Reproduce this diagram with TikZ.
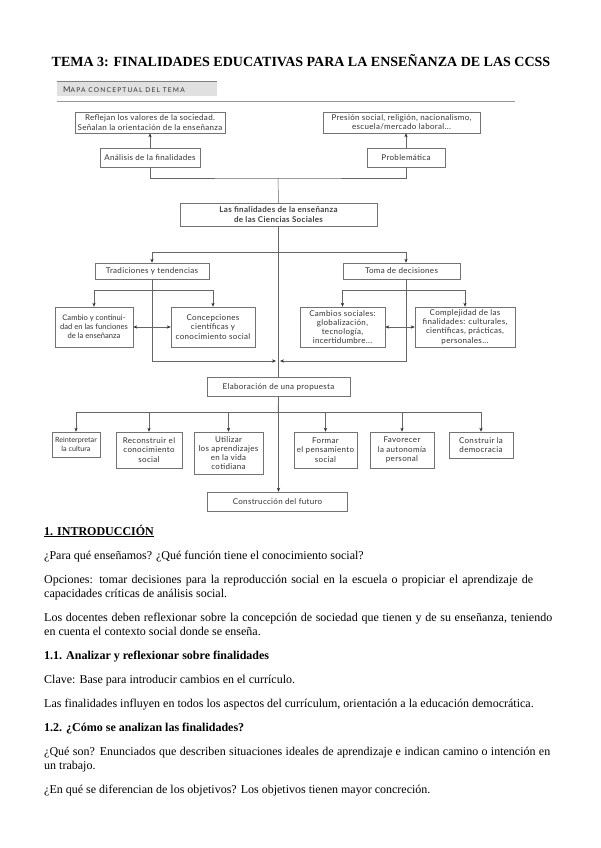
\documentclass[tikz,border=0pt]{standalone}
\usepackage{fontspec}
\setmainfont{Liberation Serif}
\newfontfamily\dfont[LetterSpace=4]{Lato}
\newfontfamily\hfont{Lato}
\usetikzlibrary{arrows.meta,calc}
\tikzset{
  dbox/.style={draw=black!55, line width=0.5pt, fill=white, inner sep=0.5pt, align=center,
    font=\dfont\fontsize{8}{9.2}\selectfont, text=black!80},
  conn/.style={draw=black!60, line width=0.5pt},
  arr/.style={conn, -{Stealth[length=4pt,width=3.2pt,color=black!80]}},
  darr/.style={conn, {Stealth[length=4pt,width=3.2pt,color=black!80]}-{Stealth[length=4pt,width=3.2pt,color=black!80]}},
  body/.style={anchor=base west, inner sep=0pt, font=\fontsize{12}{14}\selectfont},
  head/.style={anchor=base west, inner sep=0pt, font=\bfseries\fontsize{12}{14}\selectfont},
}
\begin{document}
\begin{tikzpicture}[x=1pt,y=-1pt]
\useasboundingbox (0,0) rectangle (600,848);
\fill[white] (0,0) rectangle (600,848);
% title
\node[anchor=base, inner sep=0pt, font=\bfseries\fontsize{14}{16}\selectfont] (title) at (301,67)
  {TEMA 3: FINALIDADES EDUCATIVAS PARA LA ENSEÑANZA DE LAS CCSS};
% header banner
\fill[black!12] (57,81) rectangle (217,96);
\draw[black!50, line width=0.8pt] (57,81) -- (217,81);
\draw[black!40, line width=0.6pt] (57,101) -- (515,101);
\node[anchor=base west, inner sep=0pt, text=black!80] (hdr) at (63,93)
  {\hfont{\fontsize{8}{9}\selectfont M}{\fontsize{6.6}{8}\selectfont\addfontfeatures{LetterSpace=18}APA CONCEPTUAL DEL TEMA}};
% boxes
\node[dbox, minimum width=150pt, minimum height=21pt] (refl) at (150,122.5)
  {Reflejan los valores de la sociedad.\\Señalan la orientación de la enseñanza};
\node[dbox, minimum width=157pt, minimum height=21pt] (pres) at (401.5,122.5)
  {Presión social, religión, nacionalismo,\\escuela/mercado laboral...};
\node[dbox, minimum width=100pt, minimum height=19pt] (anal) at (150,157.5) {Análisis de la finalidades};
\node[dbox, minimum width=78pt, minimum height=19pt] (prob) at (406,157.5) {Problemática};
\node[dbox, minimum width=197pt, minimum height=23pt, font=\dfont\bfseries\fontsize{8}{9.2}\selectfont, text=black!75] (fin) at (278.5,214.5)
  {Las finalidades de la enseñanza\\de las Ciencias Sociales};
\node[dbox, minimum width=114pt, minimum height=16pt] (trad) at (152,271) {Tradiciones y tendencias};
\node[dbox, minimum width=117pt, minimum height=16pt] (toma) at (401.5,271) {Toma de decisiones};
\node[dbox, minimum width=78pt, minimum height=40pt, font=\hfont\fontsize{7.6}{9.2}\selectfont] (camb) at (94,327)
  {Cambio y continui-\\dad en las funciones\\de la enseñanza};
\node[dbox, minimum width=84pt, minimum height=40pt] (conc) at (213,327)
  {Concepciones\\científicas y\\conocimiento social};
\node[dbox, minimum width=85pt, minimum height=40pt] (csoc) at (342.5,327)
  {Cambios sociales:\\globalización,\\tecnología,\\incertidumbre...};
\node[dbox, minimum width=100pt, minimum height=40pt] (comp) at (465,327)
  {Complejidad de las\\finalidades: culturales,\\científicas, prácticas,\\personales...};
\node[dbox, minimum width=143pt, minimum height=19pt] (elab) at (278.5,387) {Elaboración de una propuesta};
\node[dbox, minimum width=48pt, minimum height=25pt, font=\hfont\fontsize{7.2}{9.2}\selectfont] (rein) at (76,444.5) {Reinterpretar\\la cultura};
\node[dbox, minimum width=66pt, minimum height=36pt] (reco) at (149,450) {Reconstruir el\\conocimiento\\social};
\node[dbox, minimum width=69pt, minimum height=42pt] (util) at (228.5,453) {Utilizar\\los aprendizajes\\en la vida\\cotidiana};
\node[dbox, minimum width=63pt, minimum height=36pt] (form) at (325.5,450) {Formar\\el pensamiento\\social};
\node[dbox, minimum width=64pt, minimum height=36pt] (favo) at (402,450) {Favorecer\\la autonomía\\personal};
\node[dbox, minimum width=64pt, minimum height=26pt] (cons) at (481,445) {Construir la\\democracia};
\node[dbox, minimum width=140pt, minimum height=19pt] (futu) at (277.5,501.5) {Construcción del futuro};
% junction coordinates
\coordinate (j1) at (278,178);
\coordinate (j2) at (278,252);
\coordinate (j3) at (278,361);
\coordinate (rc) at (406,0);
\coordinate (jl) at (152,290);
\coordinate (jr) at (406,290);
\coordinate (j5) at (278,412);
% connectors
\draw[arr] (anal.north) -- (anal.north |- refl.south);
\draw[arr] (prob.north) -- (prob.north |- pres.south);
\draw[conn] (anal.south) |- (j1) -| (prob.south);
\draw[conn] (j1) -- (fin.north);
\draw[conn] (fin.south) -- (elab.north);
\draw[arr] (j2) -| (trad.north);
\draw[arr] (j2) -| (rc |- toma.north);
\draw[arr, shorten >=2pt] (trad.south) |- (j3);
\draw[arr, shorten >=2pt] (rc |- toma.south) |- (j3);
\draw[arr] (jl) -| (camb.north);
\draw[arr] (jl) -| (conc.north);
\draw[arr] (jr) -| (csoc.north);
\draw[arr] (jr) -| (comp.north);
\draw[darr] (camb.east) -- (conc.west);
\draw[darr] (csoc.east) -- (comp.west);
\draw[conn] (elab.south) -- (j5);
\foreach \n in {rein,reco,util,form,favo,cons} { \draw[arr] (j5) -| (\n.north); }
\draw[arr] (elab.south) -- (elab.south |- futu.north);
% body text
\node[head] (h1) at (44,535) {\underline{1. INTRODUCCIÓN}};
\node[body] (p1) at (44,559) {¿Para qué enseñamos? ¿Qué función tiene el conocimiento social?};
\node[body] (p2) at (44,583) {\makebox[489pt][s]{Opciones: tomar decisiones para la reproducción social en la escuela o propiciar el aprendizaje de}};
\node[body] (p2b) at (44,597) {capacidades críticas de análisis social.};
\node[body] (p3) at (44,621) {\makebox[508pt][s]{Los docentes deben reflexionar sobre la concepción de sociedad que tienen y de su enseñanza, teniendo}};
\node[body] (p3b) at (44,635) {en cuenta el contexto social donde se enseña.};
\node[head] (h2) at (44,659) {1.1. Analizar y reflexionar sobre finalidades};
\node[body] (p4) at (44,683) {Clave: Base para introducir cambios en el currículo.};
\node[body] (p5) at (44,707) {Las finalidades influyen en todos los aspectos del currículum, orientación a la educación democrática.};
\node[head] (h3) at (44,731) {1.2. ¿Cómo se analizan las finalidades?};
\node[body] (p6) at (44,755) {\makebox[506pt][s]{¿Qué son? Enunciados que describen situaciones ideales de aprendizaje e indican camino o intención en}};
\node[body] (p6b) at (44,769) {un trabajo.};
\node[body] (p7) at (44,793) {¿En qué se diferencian de los objetivos? Los objetivos tienen mayor concreción.};
\end{tikzpicture}
\end{document}
